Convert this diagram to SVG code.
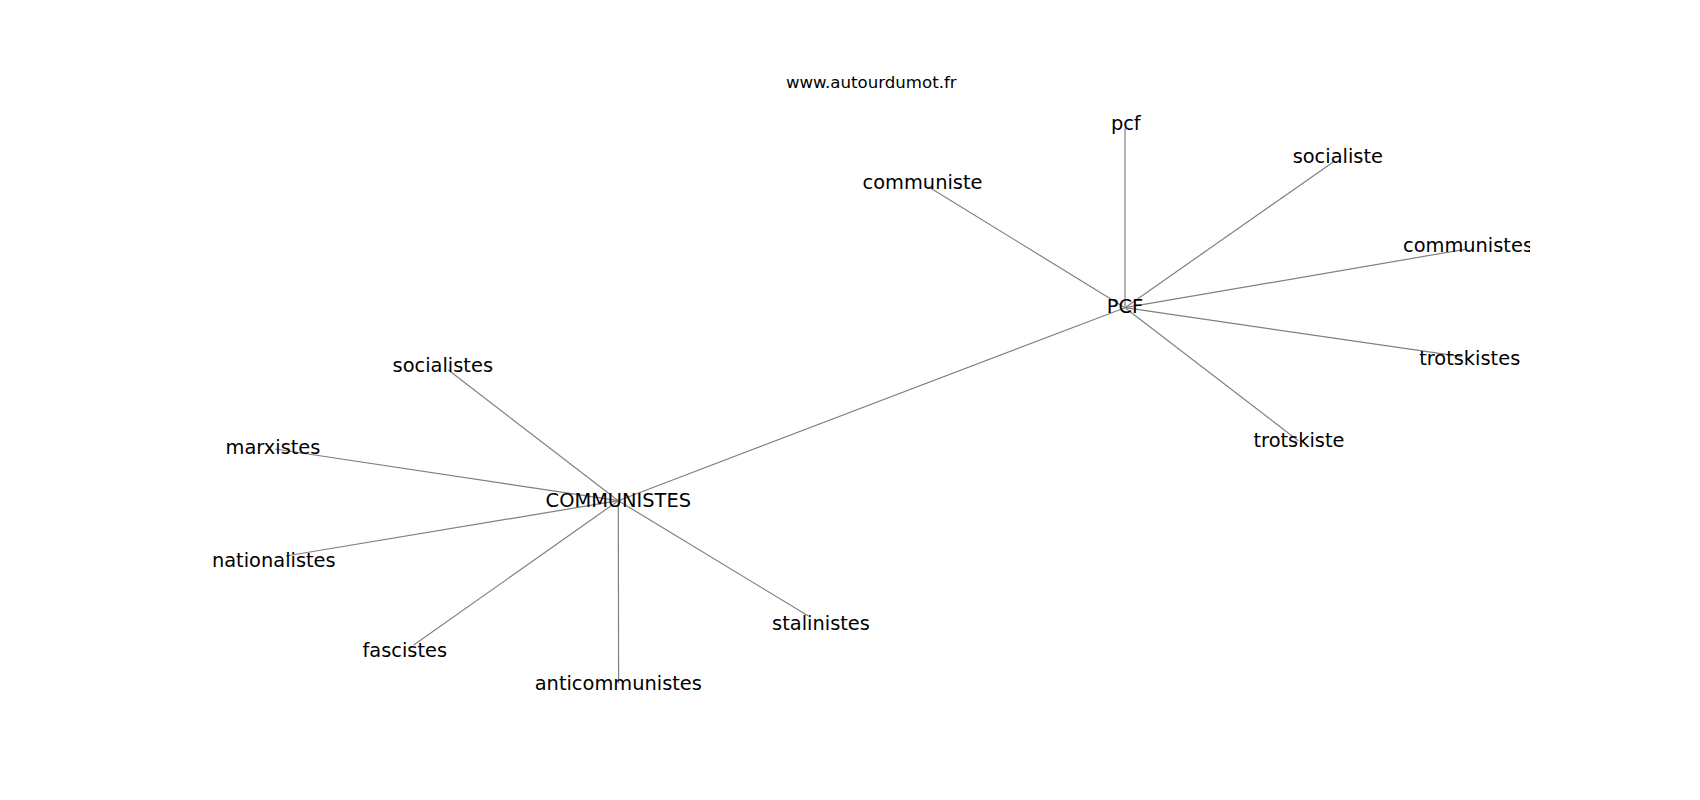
<svg xmlns="http://www.w3.org/2000/svg" width="1700" height="800" viewBox="0 0 1700 800">
<style>
.edge{stroke:#808080;stroke-width:1.2;fill:none}
.lbl{font-family:"DejaVu Sans",sans-serif;font-size:19.4px;fill:#000;text-anchor:middle}
.title{font-family:"DejaVu Sans",sans-serif;font-size:16.6px;fill:#000;text-anchor:middle}
</style>
<defs>
<clipPath id="ax"><rect x="212.5" y="96" width="1317.5" height="616"/></clipPath>
</defs>
<rect width="1700" height="800" fill="#fff"/>
<text class="title" x="871.25" y="88.3">www.autourdumot.fr</text>
<g clip-path="url(#ax)">
<g id="edges">
<line class="edge" x1="618.3" y1="500.7" x2="1125" y2="307.7"/>
<line class="edge" x1="1125" y1="307.7" x2="1125" y2="128.3"/>
<line class="edge" x1="1125" y1="307.7" x2="928.3" y2="186.7"/>
<line class="edge" x1="1125" y1="307.7" x2="1335" y2="160.7"/>
<line class="edge" x1="1125" y1="307.7" x2="1465" y2="249.3"/>
<line class="edge" x1="1125" y1="307.7" x2="1461.7" y2="356.7"/>
<line class="edge" x1="1125" y1="307.7" x2="1298.3" y2="440.7"/>
<line class="edge" x1="618.3" y1="500.7" x2="448.3" y2="370"/>
<line class="edge" x1="618.3" y1="500.7" x2="275" y2="449"/>
<line class="edge" x1="618.3" y1="500.7" x2="286" y2="556"/>
<line class="edge" x1="618.3" y1="500.7" x2="413.7" y2="645.1"/>
<line class="edge" x1="618.3" y1="500.7" x2="618.6" y2="683"/>
<line class="edge" x1="618.3" y1="500.7" x2="808" y2="615.8"/>
</g>
<g id="n-PCF"><text class="lbl" x="1125" y="313">PCF</text></g>
<g id="n-COMMUNISTES"><text class="lbl" x="618.3" y="506.5">COMMUNISTES</text></g>
<g id="n-pcf"><text class="lbl" x="1125.8" y="130">pcf</text></g>
<g id="n-communiste"><text class="lbl" x="922.5" y="189">communiste</text></g>
<g id="n-socialiste"><text class="lbl" x="1337.8" y="162.7">socialiste</text></g>
<g id="n-communistes"><text class="lbl" x="1468" y="252.3">communistes</text></g>
<g id="n-trotskistes"><text class="lbl" x="1469.7" y="365">trotskistes</text></g>
<g id="n-trotskiste"><text class="lbl" x="1299" y="446.5">trotskiste</text></g>
<g id="n-socialistes"><text class="lbl" x="442.8" y="372.3">socialistes</text></g>
<g id="n-marxistes"><text class="lbl" x="273" y="454.3">marxistes</text></g>
<g id="n-nationalistes"><text class="lbl" x="273.8" y="566.7">nationalistes</text></g>
<g id="n-fascistes"><text class="lbl" x="404.8" y="656.5">fascistes</text></g>
<g id="n-anticommunistes"><text class="lbl" x="618.3" y="690">anticommunistes</text></g>
<g id="n-stalinistes"><text class="lbl" x="821" y="629.5">stalinistes</text></g>
</g>
</svg>
